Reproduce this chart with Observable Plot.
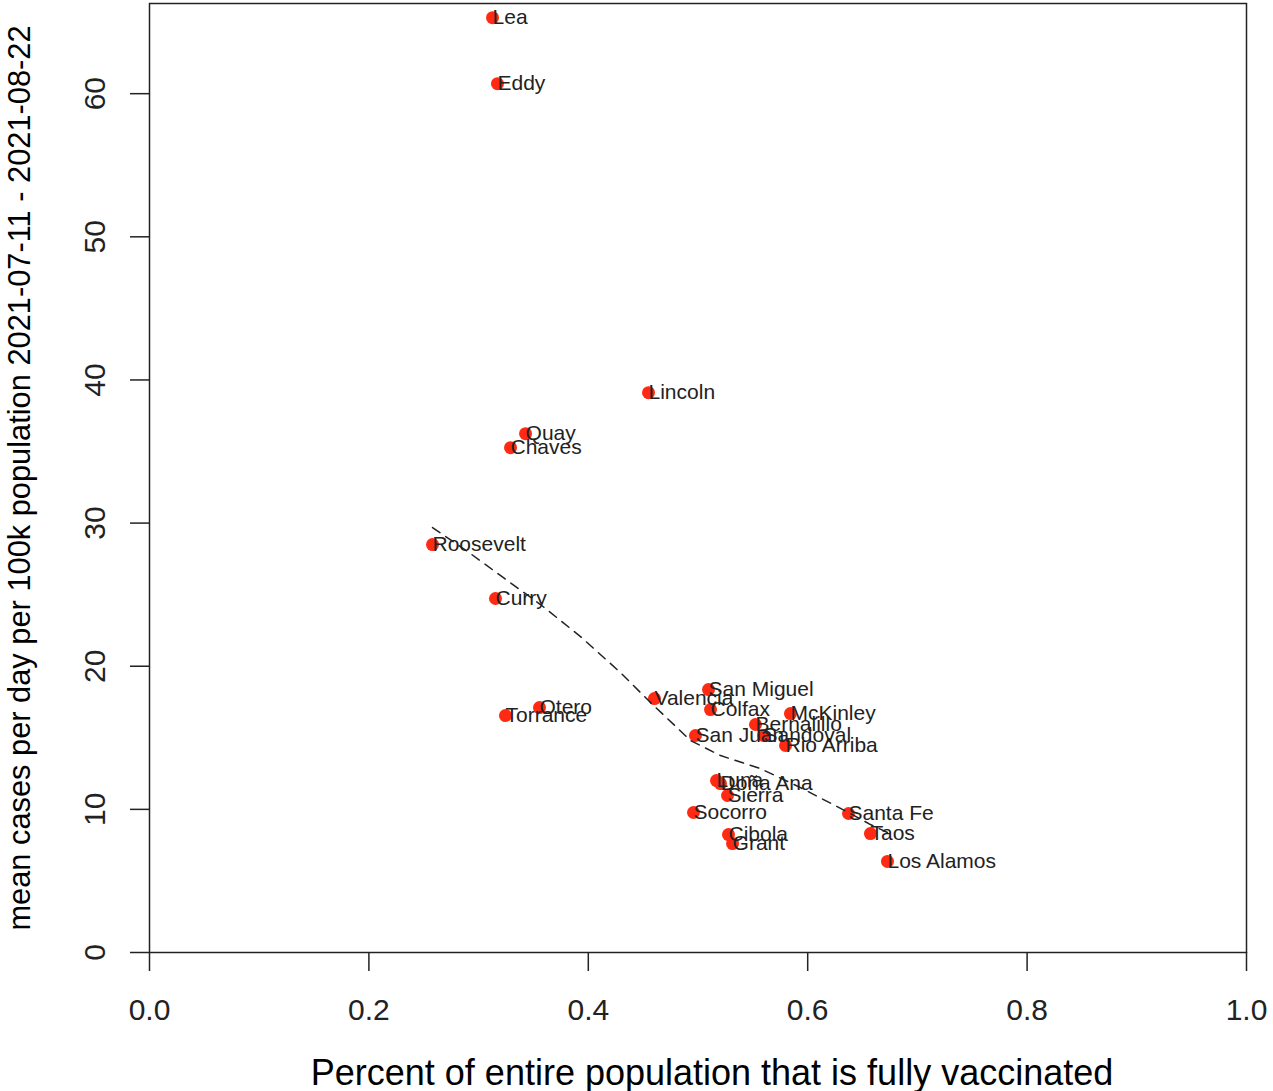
<!DOCTYPE html>
<html>
<head>
<meta charset="utf-8">
<script src="https://cdn.jsdelivr.net/npm/d3@7"></script>
<script src="https://cdn.jsdelivr.net/npm/@observablehq/plot@0.6"></script>
<style>
  html, body { margin: 0; padding: 0; background: #fff; }
  #chart svg { display: block; }
</style>
</head>
<body>
<div id="chart"></div>
<script>
// County names
const counties = ["Lea","Eddy","Lincoln","Quay","Chaves","Roosevelt","Curry","Valencia","San Miguel","Colfax","McKinley","Bernalillo","Sandoval","San Juan","Rio Arriba","Torrance","Otero","Luna","Doña Ana","Sierra","Socorro","Cibola","Grant","Santa Fe","Taos","Los Alamos"];
// Share of entire population fully vaccinated
const vaccinated = [0.3127,0.3172,0.4549,0.3428,0.3291,0.2580,0.3154,0.4603,0.5096,0.5114,0.5843,0.5524,0.5597,0.4977,0.5798,0.3245,0.3555,0.5169,0.5205,0.5269,0.4959,0.5278,0.5315,0.6372,0.6572,0.6727];
// Mean cases per day per 100k population
const cases = [65.31,60.70,39.11,36.25,35.27,28.50,24.73,17.74,18.37,16.97,16.69,15.93,15.16,15.16,14.46,16.55,17.11,12.01,11.80,10.97,9.78,8.24,7.61,9.71,8.31,6.36];
// Smoothed trend (dashed curve)
const trendX = [0.2580,0.2926,0.3263,0.3564,0.3929,0.4293,0.4549,0.4932,0.5205,0.5569,0.5934,0.6372,0.6572,0.6727];
const trendY = [29.69,27.87,25.98,24.31,22.07,19.56,17.60,14.81,13.76,12.85,11.52,9.78,8.94,8.38];
// Axis ticks
const xTicks = [0, 0.2, 0.4, 0.6, 0.8, 1.0];
const yTicks = [0, 10, 20, 30, 40, 50, 60];
const xTitle = "Percent of entire population that is fully vaccinated";
const yTitle = "mean cases per day per 100k population 2021-07-11 - 2021-08-22";

const data = counties.map((name, i) => ({name, x: vaccinated[i], y: cases[i]}));
const trend = trendX.map((x, i) => ({x, y: trendY[i]}));

const ink = "#222";
const chart = Plot.plot({
  width: 1273,
  height: 1091,
  marginLeft: 149,
  marginRight: 27,
  marginTop: 3,
  marginBottom: 139,
  style: {fontFamily: "'Liberation Sans', Arial, Helvetica, sans-serif", background: "#fff"},
  x: {domain: [0, 1]},
  y: {domain: [0, 66.3]},
  marks: [
    Plot.frame({stroke: ink, strokeWidth: 1.5}),
    Plot.axisX({ticks: xTicks, tickSize: 19, tickPadding: 27, tickFormat: d3.format(".1f"), fontSize: 30, label: null, stroke: ink, strokeWidth: 1.5, fill: ink}),
    Plot.axisY({ticks: yTicks, tickSize: 19, tickFormat: () => "", label: null, stroke: ink, strokeWidth: 1.5}),
    Plot.text(yTicks, {y: d => d, text: d => String(d), frameAnchor: "left", textAnchor: "middle", lineAnchor: "middle", dx: -54, rotate: -90, fontSize: 30, fill: ink}),
    Plot.text([xTitle], {text: d => d, frameAnchor: "bottom", textAnchor: "middle", lineAnchor: "middle", dy: 121, dx: 14, fontSize: 36, fill: "#000"}),
    Plot.text([yTitle], {text: d => d, frameAnchor: "left", textAnchor: "middle", lineAnchor: "middle", dx: -129, rotate: -90, fontSize: 30.8, fill: "#000"}),
    Plot.dot(data, {x: "x", y: "y", r: 6.5, fill: "#ff2a12", stroke: null}),
    Plot.text(data, {x: "x", y: "y", text: "name", textAnchor: "start", dx: 0, fontSize: 21, fill: ink}),
    Plot.line(trend, {x: "x", y: "y", stroke: ink, strokeWidth: 1.5, strokeDasharray: "9,7"})
  ]
});
document.getElementById("chart").appendChild(chart);
</script>
</body>
</html>
